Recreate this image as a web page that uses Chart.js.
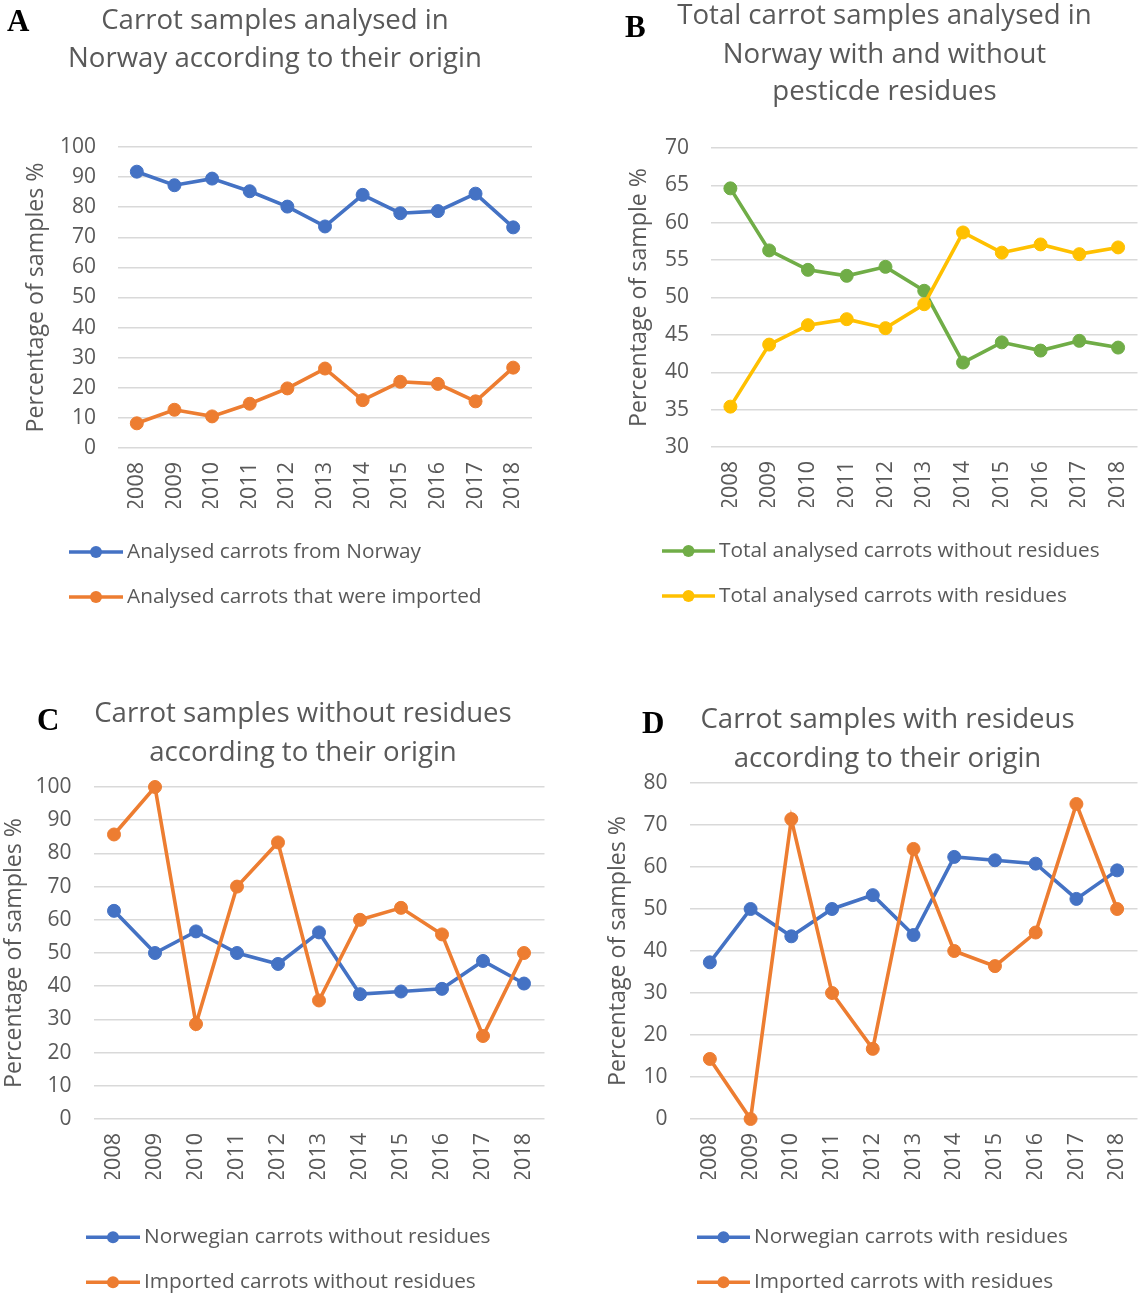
<!DOCTYPE html>
<html>
<head>
<meta charset="utf-8">
<script src="https://cdn.jsdelivr.net/npm/chart.js@4.4.0/dist/chart.umd.min.js"></script>
<style>
  html, body { margin: 0; padding: 0; background: #ffffff; }
  #page { position: relative; width: 1138px; height: 1293px; overflow: hidden; background: #ffffff; }
  #page canvas { position: absolute; }
</style>
</head>
<body>
<div id="page">
  <canvas id="chartA" width="569" height="646" style="left:0px;top:0px"></canvas>
  <canvas id="chartB" width="569" height="646" style="left:569px;top:0px"></canvas>
  <canvas id="chartC" width="569" height="647" style="left:0px;top:646px"></canvas>
  <canvas id="chartD" width="569" height="647" style="left:569px;top:646px"></canvas>
</div>
<script>
// Years on the category axis
const years = ['2008', '2009', '2010', '2011', '2012', '2013', '2014', '2015', '2016', '2017', '2018'];

// A: share of analysed samples by origin (%)
const norwayShare = [91.8, 87.3, 89.5, 85.3, 80.2, 73.6, 84.1, 78.0, 78.7, 84.5, 73.3];
const importShare = [8.2, 12.7, 10.5, 14.7, 19.8, 26.4, 15.9, 22.0, 21.3, 15.5, 26.7];

// B: all samples with / without pesticide residues (%)
const withoutResidues = [64.6, 56.3, 53.7, 52.9, 54.1, 50.9, 41.3, 44.0, 42.9, 44.2, 43.3];
const withResidues = [35.4, 43.7, 46.3, 47.1, 45.9, 49.1, 58.7, 56.0, 57.1, 55.8, 56.7];

// C: samples without residues by origin (%)
const norwegianWithout = [62.7, 50.0, 56.5, 50.0, 46.7, 56.2, 37.6, 38.4, 39.2, 47.6, 40.8];
const importedWithout = [85.7, 100.0, 28.6, 70.0, 83.3, 35.7, 60.0, 63.6, 55.6, 25.0, 50.0];

// D: samples with residues by origin (%)
const norwegianWith = [37.3, 50.0, 43.5, 50.0, 53.3, 43.8, 62.4, 61.6, 60.8, 52.4, 59.2];
const importedWith = [14.3, 0.0, 71.4, 30.0, 16.7, 64.3, 40.0, 36.4, 44.4, 75.0, 50.0];

const TEXT = '#595959';
const GRID = '#d9d9d9';
const BLUE = '#4472C4';
const ORANGE = '#ED7D31';
const GREEN = '#70AD47';
const GOLD = '#FFC000';

Chart.defaults.font.family = "'Open Sans', 'Noto Sans', sans-serif";
Chart.defaults.color = TEXT;

// Panel letter, centred title lines and a two-row legend under the plot
const panelDecor = {
  id: 'panelDecor',
  afterDraw(chart, args, o) {
    const ctx = chart.ctx;
    ctx.save();
    ctx.textAlign = 'left';
    ctx.textBaseline = 'alphabetic';
    ctx.fillStyle = '#000000';
    ctx.font = 'bold 31px "Liberation Serif", "DejaVu Serif", serif';
    ctx.fillText(o.letter, o.letterX, o.letterY);

    ctx.fillStyle = TEXT;
    ctx.font = '27.6px "Open Sans", sans-serif';
    ctx.textAlign = 'center';
    o.title.forEach((line, i) => ctx.fillText(line, o.titleX, o.titleY[i]));

    chart.data.datasets.forEach((ds, i) => {
      const y = o.legendY[i];
      ctx.strokeStyle = ds.borderColor;
      ctx.lineWidth = 3.5;
      ctx.beginPath();
      ctx.moveTo(o.legendX0, y);
      ctx.lineTo(o.legendX1, y);
      ctx.stroke();
      ctx.fillStyle = ds.borderColor;
      ctx.beginPath();
      ctx.arc((o.legendX0 + o.legendX1) / 2, y, 6, 0, Math.PI * 2);
      ctx.fill();
      ctx.fillStyle = TEXT;
      ctx.font = '20.8px "Open Sans", sans-serif';
      ctx.textAlign = 'left';
      ctx.textBaseline = 'middle';
      ctx.fillText(ds.label, o.legendX1 + 4, y);
    });
    ctx.restore();
  }
};

function makeChart(id, cfg) {
  const n = cfg.series.length;
  return new Chart(document.getElementById(id), {
    type: 'line',
    data: {
      labels: years,
      datasets: cfg.series.map((s, i) => ({
        label: s.label,
        data: s.data,
        order: n - i,
        clip: false,
        borderColor: s.color,
        backgroundColor: s.color,
        pointBackgroundColor: s.color,
        pointBorderColor: s.color,
        borderWidth: 3.6,
        pointRadius: 6.5,
        pointBorderWidth: 1,
        tension: 0,
        fill: false
      }))
    },
    options: {
      responsive: false,
      animation: false,
      events: [],
      layout: { padding: cfg.padding, autoPadding: false },
      plugins: {
        legend: { display: false },
        title: { display: false },
        tooltip: { enabled: false },
        panelDecor: cfg.decor
      },
      scales: {
        x: {
          offset: true,
          grid: { display: false, drawTicks: false },
          border: { display: false },
          ticks: { color: TEXT, font: { size: 21.5 }, minRotation: 90, maxRotation: 90, autoSkip: false, padding: 14 },
          afterFit(s) { s.height = 60; s.paddingLeft = 0; s.paddingRight = 0; }
        },
        y: {
          min: cfg.min,
          max: cfg.max,
          grid: { color: GRID, lineWidth: 1.5, drawTicks: false },
          border: { display: false },
          ticks: { color: TEXT, font: { size: 21 }, stepSize: cfg.step, padding: 22 },
          title: {
            display: true, text: cfg.yTitle, color: TEXT,
            font: { size: 23.2 }, padding: { top: cfg.yTitlePad, bottom: 0 }
          },
          afterFit(s) { s.width = cfg.yWidth; }
        }
      }
    },
    plugins: [panelDecor]
  });
}

makeChart('chartA', {
  series: [
    { label: 'Analysed carrots from Norway', data: norwayShare, color: BLUE },
    { label: 'Analysed carrots that were imported', data: importShare, color: ORANGE }
  ],
  min: 0, max: 100, step: 10,
  yTitle: 'Percentage of samples %',
  padding: { left: 10, right: 37, top: 147, bottom: 138 },
  yWidth: 108, yTitlePad: 12.6,
  decor: {
    letter: 'A', letterX: 7, letterY: 31,
    title: ['Carrot samples analysed in', 'Norway according to their origin'],
    titleX: 275, titleY: [29.3, 66.7],
    legendX0: 69, legendX1: 123, legendY: [552, 597]
  }
});

makeChart('chartB', {
  series: [
    { label: 'Total analysed carrots without residues', data: withoutResidues, color: GREEN },
    { label: 'Total analysed carrots with residues', data: withResidues, color: GOLD }
  ],
  min: 30, max: 70, step: 5,
  yTitle: 'Percentage of sample %',
  padding: { left: 40, right: 0.5, top: 148, bottom: 139 },
  yWidth: 102, yTitlePad: 16.5,
  decor: {
    letter: 'B', letterX: 56, letterY: 37,
    title: ['Total carrot samples analysed in', 'Norway with and without', 'pesticde residues'],
    titleX: 315.5, titleY: [24, 62.7, 100],
    legendX0: 93, legendX1: 146, legendY: [551, 596]
  }
});

makeChart('chartC', {
  series: [
    { label: 'Norwegian carrots without residues', data: norwegianWithout, color: BLUE },
    { label: 'Imported carrots without residues', data: importedWithout, color: ORANGE }
  ],
  min: 0, max: 100, step: 10,
  yTitle: 'Percentage of samples %',
  padding: { left: 0, right: 24.5, top: 141, bottom: 114 },
  yWidth: 93.5, yTitlePad: 0,
  decor: {
    letter: 'C', letterX: 37, letterY: 84,
    title: ['Carrot samples without residues', 'according to their origin'],
    titleX: 303, titleY: [76.3, 114.7],
    legendX0: 86, legendX1: 140, legendY: [591.3, 636.3]
  }
});

makeChart('chartD', {
  series: [
    { label: 'Norwegian carrots with residues', data: norwegianWith, color: BLUE },
    { label: 'Imported carrots with residues', data: importedWith, color: ORANGE }
  ],
  min: 0, max: 80, step: 10,
  yTitle: 'Percentage of samples %',
  padding: { left: 20, right: 0.5, top: 137, bottom: 114 },
  yWidth: 100.5, yTitlePad: 15.5,
  decor: {
    letter: 'D', letterX: 73, letterY: 87,
    title: ['Carrot samples with resideus', 'according to their origin'],
    titleX: 318.5, titleY: [82.3, 120.7],
    legendX0: 128, legendX1: 181, legendY: [591.3, 636.3]
  }
});
</script>
</body>
</html>
